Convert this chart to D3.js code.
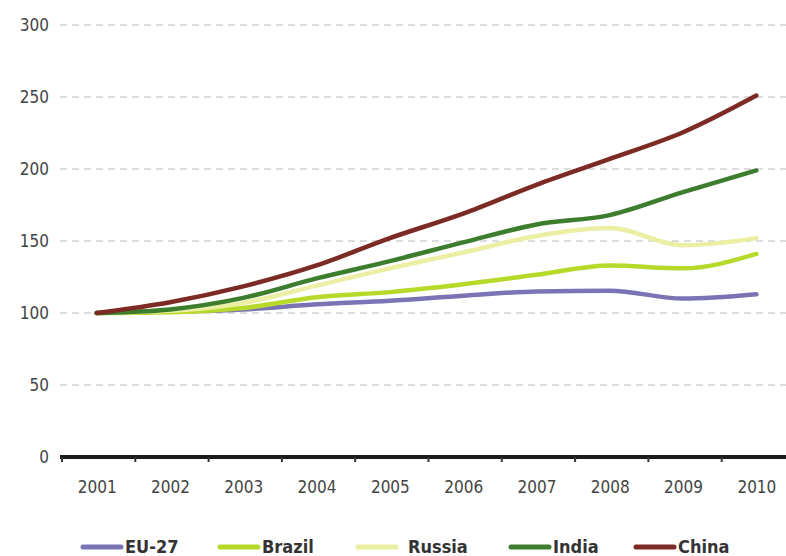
<!DOCTYPE html>
<html>
<head>
<meta charset="utf-8">
<script src="https://cdn.jsdelivr.net/npm/d3@7"></script>
<style>
  html, body { margin: 0; padding: 0; background: #fff; }
  svg { display: block; font-family: "DejaVu Sans", sans-serif; font-stretch: condensed; }
</style>
</head>
<body>
<svg id="chart" width="786" height="556"></svg>
<script>
// Index, 2001 = 100
const years = ["2001","2002","2003","2004","2005","2006","2007","2008","2009","2010"];
const yTicks = [0, 50, 100, 150, 200, 250, 300];

const eu27   = [100, 101, 102.5, 106, 108.5, 112, 115, 115.5, 110, 113];
const brazil = [100, 100.5, 103.5, 111, 114.5, 120, 126.5, 133, 131, 141];
const russia = [100, 101.5, 107, 119, 131, 142, 153.5, 159, 147, 152];
const india  = [100, 102.5, 110.5, 124, 136, 149, 161.5, 168, 184, 199];
const china  = [100, 107.5, 118.5, 133, 152, 169, 189, 207, 225.5, 251];

const seriesNames  = ["EU-27", "Brazil", "Russia", "India", "China"];
const seriesValues = [eu27, brazil, russia, india, china];
const seriesColors = ["#7a74b4", "#b6d92a", "#ebefa4", "#3d7e2e", "#7c2b24"];

const svg = d3.select("#chart");

const x = d3.scalePoint().domain(years).range([60, 793]).padding(0.5);
const xBand = d3.scaleBand().domain(years).range([60, 793]);
const y = d3.scaleLinear().domain([0, 300]).range([457, 25]);

// dashed horizontal gridlines
svg.append("g")
  .selectAll("line")
  .data(yTicks.filter(d => d > 0))
  .join("line")
  .attr("x1", 60).attr("x2", 786)
  .attr("y1", d => y(d)).attr("y2", d => y(d))
  .attr("stroke", "#d2d2d2")
  .attr("stroke-width", 1.5)
  .attr("stroke-dasharray", "7,5");

// y-axis labels
const yAxis = d3.axisLeft(y).tickValues(yTicks).tickSize(0).tickPadding(0);
svg.append("g")
  .attr("transform", "translate(49,0)")
  .call(yAxis)
  .call(g => g.select(".domain").remove())
  .call(g => g.selectAll("text")
    .attr("font-size", 17)
    .attr("fill", "#444")
    .attr("font-family", "DejaVu Sans")
    .style("font-stretch", "condensed"));

// series lines
const line = d3.line()
  .x((d, i) => x(years[i]))
  .y(d => y(d))
  .curve(d3.curveMonotoneX);

svg.append("g")
  .selectAll("path")
  .data(seriesValues)
  .join("path")
  .attr("d", d => line(d))
  .attr("fill", "none")
  .attr("stroke", (d, i) => seriesColors[i])
  .attr("stroke-width", 4.5)
  .attr("stroke-linecap", "round")
  .attr("stroke-linejoin", "round");

// x-axis: thick baseline, boundary ticks, centred year labels
svg.append("line")
  .attr("x1", 60).attr("x2", 786)
  .attr("y1", y(0)).attr("y2", y(0))
  .attr("stroke", "#1a1a1a")
  .attr("stroke-width", 4);

svg.append("g")
  .selectAll("line")
  .data(years)
  .join("line")
  .attr("x1", d => xBand(d) + 2).attr("x2", d => xBand(d) + 2)
  .attr("y1", y(0)).attr("y2", y(0) + 5)
  .attr("stroke", "#333")
  .attr("stroke-width", 2);

const xAxis = d3.axisBottom(x).tickSize(0).tickPadding(0);
svg.append("g")
  .attr("transform", `translate(0,${y(0) + 30})`)
  .call(xAxis)
  .call(g => g.select(".domain").remove())
  .call(g => g.selectAll("text")
    .attr("font-size", 17)
    .attr("fill", "#444")
    .attr("dy", "0.35em")
    .attr("font-family", "DejaVu Sans")
    .style("font-stretch", "condensed"));

// legend
const legendX = [83, 220, 358, 511, 636];
const legend = svg.append("g")
  .selectAll("g")
  .data(seriesNames)
  .join("g")
  .attr("transform", (d, i) => `translate(${legendX[i]},547)`);

legend.append("line")
  .attr("x1", 0).attr("x2", 38)
  .attr("y1", 0).attr("y2", 0)
  .attr("stroke", (d, i) => seriesColors[i])
  .attr("stroke-width", 5)
  .attr("stroke-linecap", "round");

legend.append("text")
  .attr("x", (d, i) => i === 2 ? 50 : 42)
  .attr("y", 0)
  .attr("dy", "0.36em")
  .attr("font-size", 18)
  .attr("font-weight", "bold")
  .attr("fill", "#333")
  .style("font-stretch", "condensed")
  .text(d => d);
</script>
</body>
</html>
